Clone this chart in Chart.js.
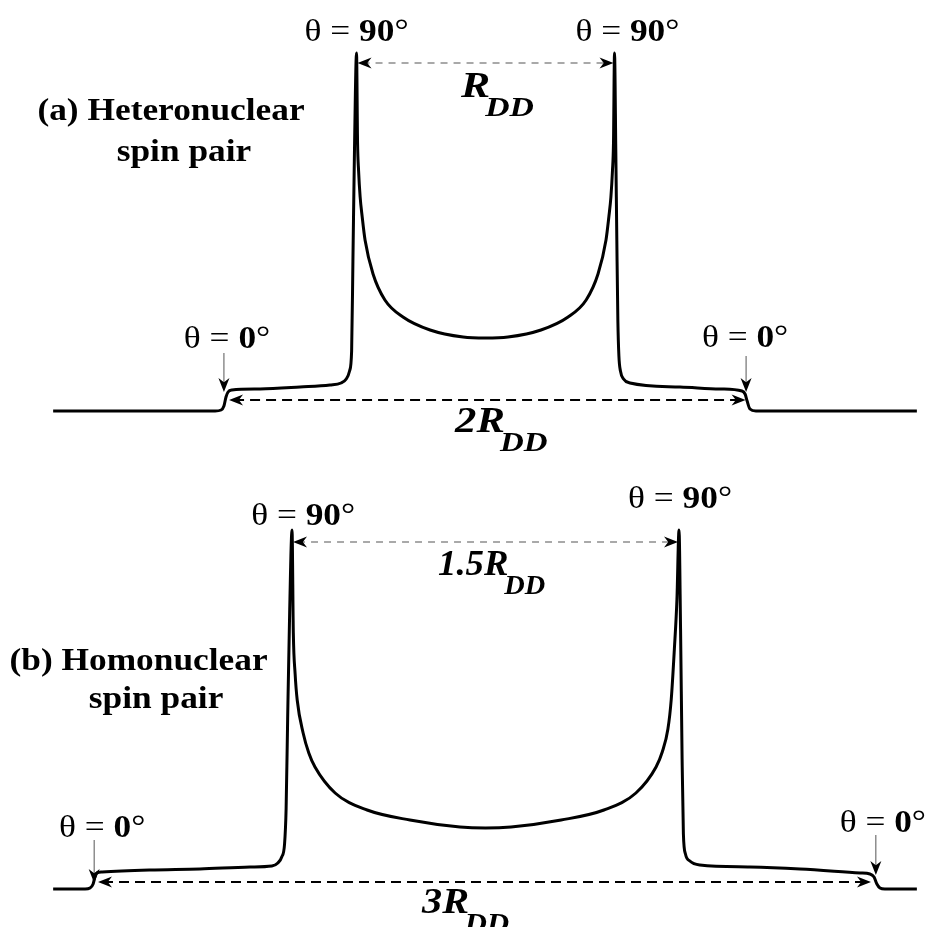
<!DOCTYPE html>
<html>
<head>
<meta charset="utf-8">
<script src="https://cdn.jsdelivr.net/npm/chart.js@4.4.1/dist/chart.umd.min.js"></script>
<style>
  html, body { margin: 0; padding: 0; background: #fff; }
  #wrap { position: relative; width: 925px; height: 927px; overflow: hidden; }
  canvas { position: absolute; left: 0; }
  #hetero { top: 0; }
  #homo { top: 463px; }
</style>
</head>
<body>
<div id="wrap">
  <canvas id="hetero" width="925" height="463"></canvas>
  <canvas id="homo" width="925" height="464"></canvas>
</div>
<script>
// frequency shift in units of R_DD, intensity in arbitrary units
const heteroShift = [-1.676, -1.048, -1.025, -1.014, -1.006, -0.998, -0.983, -0.874, -0.719, -0.603,
    -0.560, -0.540, -0.527, -0.519, -0.514, -0.508, -0.500, -0.496, -0.492, -0.486, -0.478, -0.467,
    -0.436, -0.390, -0.320, -0.215, -0.087, 0, 0.087, 0.215, 0.320, 0.390, 0.436, 0.467, 0.478, 0.486,
    0.492, 0.496, 0.500, 0.505, 0.509, 0.513, 0.517, 0.523, 0.535, 0.560, 0.754, 0.909, 0.994, 1.006,
    1.014, 1.025, 1.048, 1.672]
const heteroIntensity = [0, 0, 1, 5, 14, 19, 21, 22, 24, 26,
    28, 32, 40, 60, 150, 260, 358, 268, 240, 214, 194, 171,
    137, 111, 94, 81, 74, 73, 74, 81, 94, 111, 137, 171, 194, 214,
    240, 268, 358, 260, 170, 90, 55, 40, 32, 28, 24, 22, 20, 17,
    10, 2, 0, 0]

const homoShift = [-1.676, -1.552, -1.533, -1.521, -1.514, -1.506, -1.486, -1.300, -1.107, -0.913,
    -0.828, -0.805, -0.790, -0.779, -0.773, -0.767, -0.759, -0.750, -0.745, -0.738, -0.730, -0.707,
    -0.685, -0.661, -0.583, -0.459, -0.293, -0.099, 0, 0.099, 0.293, 0.459, 0.583, 0.661, 0.685, 0.707,
    0.720, 0.732, 0.742, 0.750, 0.756, 0.762, 0.767, 0.775, 0.792, 0.831, 1.025, 1.219, 1.452, 1.490,
    1.506, 1.517, 1.529, 1.548, 1.672]
const homoIntensity = [0, 0, 1, 5, 12, 16, 17, 19, 20, 22,
    23, 26, 32, 45, 80, 170, 280, 359, 256, 215, 189, 156,
    136, 122, 96, 79, 69, 62, 61, 62, 69, 79, 96, 122, 137, 160,
    190, 240, 290, 359, 260, 130, 55, 35, 28, 24, 22, 20, 16, 15,
    12, 5, 1, 0, 0]

const heteroTitle = ['(a) Heteronuclear', 'spin pair']
const homoTitle = ['(b) Homonuclear', 'spin pair']

const SERIF = '"Liberation Serif", "Times New Roman", serif'
const STRETCH = 1.14

function font(style, size) {
    return style + ' ' + size + 'px ' + SERIF
}

function drawRuns(ctx, runs, x, y, align, stretch) {
    ctx.save()
    ctx.translate(x, y)
    ctx.scale(stretch || STRETCH, 1)
    ctx.textAlign = 'left'
    ctx.textBaseline = 'alphabetic'
    ctx.fillStyle = '#000'
    let total = 0
    runs.forEach(r => {
        ctx.font = r.font
        r.w = ctx.measureText(r.text).width
        total += r.w + (r.dx || 0)
    })
    let cx = align == 'center' ? -total / 2 : 0
    runs.forEach(r => {
        ctx.font = r.font
        cx += r.dx || 0
        ctx.fillText(r.text, cx, r.dy || 0)
        cx += r.w
    })
    ctx.restore()
}

// barbed arrow head, angle = direction from the tip back along the shaft
function head(ctx, x, y, angle, len, half) {
    const c = Math.cos(angle), s = Math.sin(angle)
    const bx = x + len * c, by = y + len * s
    ctx.beginPath()
    ctx.moveTo(x, y)
    ctx.lineTo(bx - half * s, by + half * c)
    ctx.lineTo(x + len * 0.7 * c, y + len * 0.7 * s)
    ctx.lineTo(bx + half * s, by - half * c)
    ctx.closePath()
    ctx.fill()
}

const notesPlugin = {
    id: 'notes',
    afterDatasetsDraw(chart, args, opts) {
        const ctx = chart.ctx
        const X = v => chart.scales.x.getPixelForValue(v)
        const Y = v => chart.scales.y.getPixelForValue(v)
        ctx.save()
        ctx.lineCap = 'butt'
        ctx.fillStyle = '#000'

        // dashed span arrows
        opts.spans.forEach(s => {
            const x1 = X(s.from), x2 = X(s.to), y = Y(s.y)
            ctx.strokeStyle = s.dark ? '#000' : '#555'
            ctx.lineWidth = s.dark ? 1.8 : 1.1
            ctx.setLineDash(s.dark ? [10, 6] : [7, 6])
            ctx.beginPath()
            ctx.moveTo(x1 + 6, y)
            ctx.lineTo(x2 - 6, y)
            ctx.stroke()
            ctx.setLineDash([])
            ctx.fillStyle = '#000'
            head(ctx, x1 + 1, y, 0, 14, 5.5)
            head(ctx, x2 - 1, y, Math.PI, 14, 5.5)
        })

        // vertical pointers for theta = 0
        opts.drops.forEach(d => {
            const x = X(d.x), y1 = Y(d.from), y2 = Y(d.to)
            ctx.strokeStyle = '#555'
            ctx.lineWidth = 1
            ctx.beginPath()
            ctx.moveTo(x, y1)
            ctx.lineTo(x, y2 - 6)
            ctx.stroke()
            head(ctx, x, y2, -Math.PI / 2, 14, 5.5)
        })

        opts.theta.forEach(t => {
            drawRuns(ctx, [
                { text: 'θ = ', font: font('normal', 31) },
                { text: t.v, font: font('bold', 31) },
                { text: '°', font: font('normal', 31) }
            ], X(t.x), Y(t.y), 'center')
        })

        opts.symbols.forEach(s => {
            drawRuns(ctx, [
                { text: s.main, font: font('italic bold', 35) },
                { text: 'DD', font: font('italic bold', 27), dx: -4, dy: 19 }
            ], X(s.x), Y(s.y), 'left', s.stretch)
        })

        opts.titles.forEach(t => {
            drawRuns(ctx, [{ text: t.text, font: font('bold', 31) }], X(t.x), Y(t.y), 'center')
        })
        ctx.restore()
    }
}

function makeSpectrum(canvasId, shift, intensity, yMin, yMax, notes) {
    return new Chart(document.getElementById(canvasId), {
        type: 'line',
        data: {
            datasets: [{
                data: shift.map((x, i) => ({ x: x, y: intensity[i] })),
                borderColor: '#000',
                borderWidth: 3,
                borderJoinStyle: 'round',
                pointRadius: 0,
                fill: false,
                cubicInterpolationMode: 'monotone',
                clip: false
            }]
        },
        options: {
            responsive: false,
            animation: false,
            layout: { padding: 0 },
            scales: {
                x: { type: 'linear', min: -1.882, max: 1.7035, display: false },
                y: { min: yMin, max: yMax, display: false }
            },
            plugins: {
                legend: { display: false },
                tooltip: { enabled: false },
                notes: notes
            }
        },
        plugins: [notesPlugin]
    })
}

makeSpectrum('hetero', heteroShift, heteroIntensity, -52, 411, {
    theta: [
        { x: -0.5, y: 370, v: '90' },
        { x: 0.55, y: 370, v: '90' },
        { x: -1.002, y: 63, v: '0' },
        { x: 1.006, y: 64, v: '0' }
    ],
    drops: [
        { x: -1.014, from: 58, to: 19 },
        { x: 1.010, from: 55, to: 19 }
    ],
    spans: [
        { from: -0.5, to: 0.5, y: 348, dark: false },
        { from: -0.998, to: 1.012, y: 11, dark: true }
    ],
    symbols: [
        { x: -0.095, y: 314, main: 'R', stretch: 1.25 },
        { x: -0.118, y: -21, main: '2R', stretch: 1.22 }
    ],
    titles: [
        { x: -1.219, y: 291, text: heteroTitle[0] },
        { x: -1.169, y: 250, text: heteroTitle[1] }
    ]
})

makeSpectrum('homo', homoShift, homoIntensity, -38, 426, {
    theta: [
        { x: -0.707, y: 364, v: '90' },
        { x: 0.754, y: 381, v: '90' },
        { x: -1.486, y: 52, v: '0' },
        { x: 1.540, y: 57, v: '0' }
    ],
    drops: [
        { x: -1.517, from: 49, to: 6 },
        { x: 1.513, from: 54, to: 14 }
    ],
    spans: [
        { from: -0.75, to: 0.75, y: 347, dark: false },
        { from: -1.506, to: 1.498, y: 7, dark: true }
    ],
    symbols: [
        { x: -0.184, y: 314, main: '1.5R', stretch: 1.05 },
        { x: -0.246, y: -24, main: '3R', stretch: 1.15 }
    ],
    titles: [
        { x: -1.345, y: 219, text: homoTitle[0] },
        { x: -1.277, y: 181, text: homoTitle[1] }
    ]
})
</script>
</body>
</html>
